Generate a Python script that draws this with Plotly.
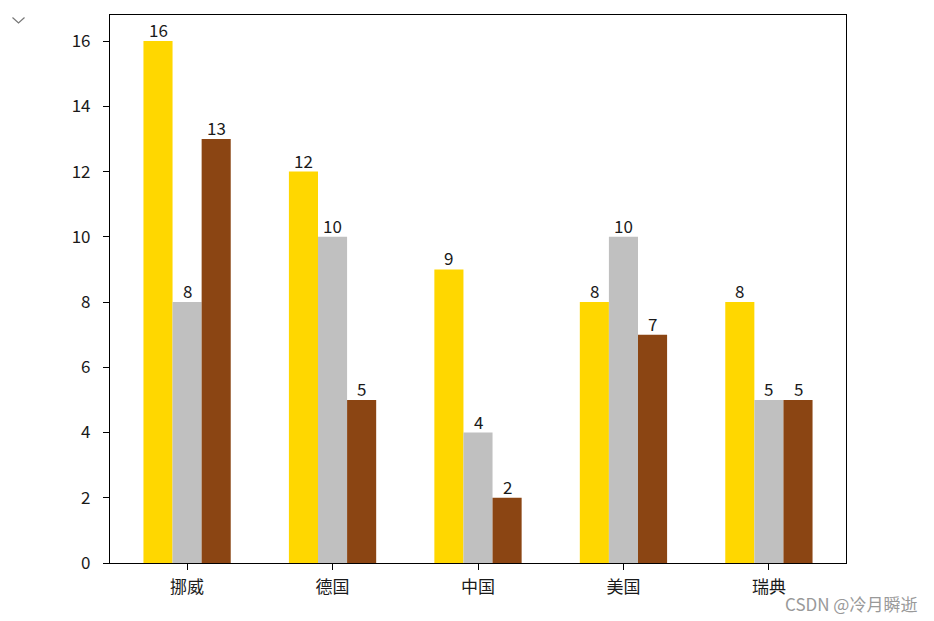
import plotly.graph_objects as go

categories = ["挪威", "德国", "中国", "美国", "瑞典"]
gold = [16, 12, 9, 8, 8]
silver = [8, 10, 4, 10, 5]
bronze = [13, 5, 2, 7, 5]
series_names = ["金牌", "银牌", "铜牌"]
colors = ["#FFD700", "#C0C0C0", "#8B4513"]
y_ticks = [0, 2, 4, 6, 8, 10, 12, 14, 16]

W, H = 934, 621
L, R, T, B = 110, 88, 15, 58
bar_w = 0.2
offsets = [-bar_w, 0, bar_w]
FONT = "Noto Sans CJK SC"
TXT = "#1a1a1a"

fig = go.Figure()
annotations = []
for vals, name, col, off in zip([gold, silver, bronze], series_names, colors, offsets):
    xs = [i + off for i in range(len(categories))]
    fig.add_trace(go.Bar(x=xs, y=vals, name=name, width=bar_w,
                         marker=dict(color=col, line=dict(width=0)),
                         showlegend=False))
    for x, v in zip(xs, vals):
        annotations.append(dict(x=x, y=v, xref="x", yref="y", text=str(v),
                                showarrow=False, yanchor="bottom", xanchor="center",
                                yshift=-3, font=dict(family=FONT, size=17, color=TXT)))

pw, ph = W - L - R, H - T - B

def px(xp):
    return (xp - L) / pw

def py(yp):
    return (H - B - yp) / ph

# watermark
annotations.append(dict(x=px(919), y=py(603), xref="paper", yref="paper", text="CSDN @冷月瞬逝",
                        showarrow=False, xanchor="right", yanchor="middle",
                        font=dict(family=FONT, size=17, color="#999")))

chevron = dict(type="path", xref="paper", yref="paper",
               path=f"M {px(12.5)} {py(17.5)} L {px(18.5)} {py(23)} L {px(24.5)} {py(17.5)}",
               line=dict(color="#777", width=1.2))

fig.update_layout(
    width=W, height=H,
    margin=dict(l=L, r=R, t=T, b=B, pad=0),
    plot_bgcolor="white", paper_bgcolor="white",
    barmode="overlay",
    annotations=annotations,
    shapes=[chevron],
    font=dict(family=FONT, size=17, color=TXT),
)
fig.update_xaxes(range=[-0.53, len(categories) - 1 + 0.53],
                 tickmode="array", tickvals=list(range(len(categories))), ticktext=categories,
                 showgrid=False, zeroline=False, showline=True, linecolor="black", linewidth=1.2,
                 mirror=True, ticks="outside", ticklen=6, tickcolor="black",
                 ticklabelstandoff=2, tickfont=dict(family=FONT, size=17, color=TXT))
fig.update_yaxes(range=[0, 16.8], tickmode="array", tickvals=y_ticks,
                 showgrid=False, zeroline=False, showline=True, linecolor="black", linewidth=1.2,
                 mirror=True, ticks="outside", ticklen=6, tickcolor="black",
                 ticklabelstandoff=9, tickfont=dict(family=FONT, size=17, color=TXT))

fig.write_html("out.html")
